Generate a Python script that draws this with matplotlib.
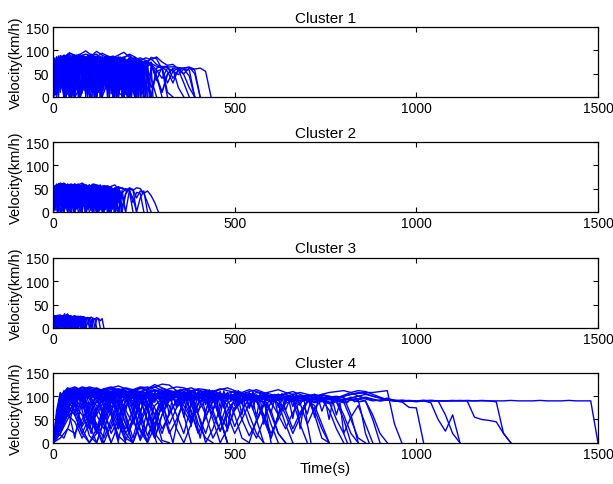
import matplotlib
matplotlib.use('Agg')
import matplotlib.pyplot as plt
import numpy as np

plt.rcParams['font.family'] = ['Liberation Sans', 'DejaVu Sans']

# Velocity traces: (time step in s, velocities in km/h)
cluster1 = [
    (15, [0, 55, 82, 95, 88, 92, 99, 90, 86, 94, 88, 84, 90, 96, 86, 80, 84, 78, 72, 66, 62, 64, 65, 63, 62, 64, 60, 62, 55, 0]),
    (15, [0, 70, 90, 84, 60, 20, 65, 88, 92, 80, 40, 10, 55, 85, 90, 78, 50, 70, 85, 82, 60, 30, 55, 62, 60, 45, 0]),
    (15, [0, 40, 78, 86, 30, 0, 50, 80, 84, 70, 15, 60, 82, 86, 40, 5, 60, 78, 72, 35, 65, 66, 40, 58, 62, 64, 50, 0]),
    (15, [0, 80, 75, 20, 70, 86, 50, 0, 45, 82, 88, 60, 15, 70, 84, 80, 30, 60, 75, 45, 10, 50, 60, 20, 0]),
    (15, [0, 65, 85, 40, 75, 90, 85, 30, 0, 60, 80, 78, 25, 65, 82, 50, 70, 72, 20, 45, 0]),
    (15, [0, 50, 88, 70, 10, 55, 83, 92, 45, 80, 85, 20, 0, 58, 79, 85, 60, 68, 40, 0]),
    (15, [0, 75, 60, 5, 72, 90, 75, 82, 35, 70, 88, 62, 10, 0, 50, 76, 80, 55, 0]),
    (15, [0, 30, 82, 88, 55, 0, 40, 85, 78, 50, 85, 86, 38, 70, 74, 0]),
    (15, [0, 85, 80, 45, 85, 70, 10, 66, 88, 80, 25, 60, 82, 0]),
    (15, [0, 60, 25, 78, 86, 60, 84, 45, 0, 70, 80, 0]),
    (15, [0, 45, 80, 0, 60, 88, 84, 20, 75, 0]),
    (15, [0, 70, 35, 0, 50, 76, 30, 0]),
    (15, [0, 82, 86, 90, 84, 88, 92, 88, 84, 80, 86, 82, 86, 80, 72, 60, 78, 84, 80, 86, 75, 68, 70, 60, 50, 62, 58, 0]),
    (15, [0, 66, 86, 94, 90, 80, 85, 88, 98, 90, 84, 88, 80, 84, 92, 86, 78, 74, 82, 70, 64, 55, 30, 60, 48, 20, 0]),
    (15, [0, 50, 76, 84, 80, 72, 55, 80, 86, 76, 40, 72, 82, 78, 65, 35, 70, 76, 68, 40, 10, 48, 62, 58, 30, 0]),
    (15, [0, 60, 0, 45, 80, 10, 60, 82, 0, 55, 86, 30, 70, 0, 65, 78, 15, 60, 0]),
    (15, [0, 20, 70, 40, 82, 0, 75, 50, 85, 5, 68, 80, 20, 76, 0, 50, 72, 64, 0, 55, 60, 0]),
    (15, [0, 88, 40, 80, 0, 70, 85, 10, 78, 35, 86, 0, 62, 80, 45, 0]),
    (15, [0, 35, 60, 80, 74, 60, 82, 80, 66, 78, 84, 70, 80, 74, 60, 76, 72, 66, 70, 58, 40, 62, 56, 48, 60, 58, 0]),
    (15, [0, 78, 84, 30, 0, 20, 82, 90, 70, 0, 30, 84, 80, 10, 0, 60, 74, 30, 0, 62, 66, 10, 0]),
    (12, [0, 84, 20, 86, 0, 80, 40, 88, 5, 82, 60, 0, 84, 30, 86, 0, 78, 50, 0, 80, 20, 0]),
    (12, [0, 10, 80, 0, 70, 84, 0, 60, 86, 10, 75, 0, 82, 45, 0, 70, 80, 0, 60, 0]),
    (5, [0, 82, 4, 86, 10, 80, 0, 88, 6, 84, 2, 90, 12, 85, 0, 83, 8, 87, 3, 81, 0, 89, 10, 84, 5, 86,
         0, 82, 14, 88, 2, 85, 7, 80, 0, 84, 9, 86, 1, 83, 6, 78, 0, 82, 11, 85, 3, 80, 0, 76, 5, 79, 0]),
    (5, [0, 30, 78, 0, 84, 20, 88, 0, 85, 15, 82, 0, 90, 25, 86, 0, 80, 18, 87, 0, 84, 22, 89, 0, 83, 16,
         85, 0, 81, 28, 86, 0, 84, 12, 80, 0, 85, 20, 82, 0, 78, 24, 83, 0, 80, 10, 76, 0, 79, 30, 74, 0, 72, 15, 70, 0]),
    (5, [0, 60, 40, 85, 45, 88, 35, 84, 50, 90, 42, 86, 38, 83, 48, 87, 40, 85, 30, 89, 45, 82, 36, 86, 44, 84,
         32, 88, 46, 81, 38, 85, 42, 80, 34, 83, 40, 79, 30, 82, 44, 78, 36, 80, 28, 76, 40, 74, 20, 72, 0]),
    (5, [0, 70, 20, 80, 60, 86, 15, 88, 62, 84, 25, 90, 58, 86, 10, 85, 65, 88, 22, 83, 55, 87, 18, 84, 60, 86,
         12, 82, 64, 85, 20, 81, 56, 84, 8, 80, 60, 82, 16, 78, 52, 80, 24, 76, 58, 74, 10, 72, 50, 70, 0]),
    (5, [0, 45, 86, 65, 89, 70, 84, 55, 92, 68, 86, 60, 88, 72, 85, 58, 90, 66, 84, 62, 87, 70, 83, 56, 86, 64,
         82, 60, 85, 68, 80, 54, 84, 62, 79, 58, 82, 66, 78, 50, 80, 60, 76, 55, 74, 40, 0]),
    (5, [0, 50, 0, 84, 40, 87, 0, 82, 45, 88, 0, 85, 38, 90, 0, 83, 42, 86, 0, 84, 35, 88, 0, 81, 46, 85,
         0, 86, 40, 82, 0, 84, 44, 80, 0, 83, 38, 81, 0, 79, 42, 80, 0, 77, 36, 75, 0, 72, 30, 0]),
    (5, [0, 84, 30, 86, 70, 88, 28, 85, 72, 91, 34, 87, 68, 84, 26, 89, 74, 86, 32, 85, 66, 88, 24, 83, 70, 86,
         36, 84, 64, 87, 30, 82, 68, 85, 22, 81, 66, 83, 34, 80, 62, 78, 28, 76, 60, 74, 0]),
    (5, [0, 15, 86, 5, 88, 18, 84, 0, 90, 12, 87, 3, 85, 20, 89, 0, 84, 14, 86, 6, 88, 16, 83, 0, 85, 10,
         87, 4, 82, 18, 86, 0, 83, 12, 81, 2, 84, 16, 80, 0, 82, 10, 78, 5, 80, 14, 76, 0, 74, 8, 72, 0, 70, 0]),
]

cluster2 = [
    (10, [0, 45, 58, 62, 56, 60, 55, 58, 62, 57, 54, 60, 58, 55, 56, 52, 55, 58, 50, 52, 48, 50, 46, 52, 50, 40, 45, 35, 20, 0]),
    (10, [0, 55, 60, 30, 0, 40, 58, 55, 20, 50, 58, 45, 0, 35, 56, 55, 25, 48, 54, 10, 40, 52, 48, 0, 30, 45, 0]),
    (10, [0, 20, 52, 58, 10, 45, 60, 35, 55, 0, 42, 58, 56, 15, 50, 55, 30, 52, 46, 0, 38, 50, 20, 42, 40, 0]),
    (10, [0, 60, 40, 0, 50, 56, 5, 48, 57, 40, 58, 20, 0, 45, 54, 50, 0, 40, 50, 35, 0, 45, 30, 0]),
    (10, [0, 35, 58, 50, 60, 25, 0, 50, 55, 58, 30, 52, 57, 5, 40, 55, 48, 20, 50, 0]),
    (10, [0, 50, 15, 55, 58, 0, 40, 56, 50, 10, 55, 48, 0, 46, 52, 0]),
    (10, [0, 40, 60, 55, 45, 58, 0, 30, 58, 54, 0]),
    (10, [0, 58, 54, 0, 45, 52, 30, 0]),
    (10, [0, 30, 55, 58, 52, 56, 60, 54, 58, 50, 55, 57, 52, 54, 50, 56, 52, 48, 54, 50, 45, 50, 48, 30, 45, 40, 20, 0]),
    (10, [0, 55, 62, 58, 25, 50, 57, 60, 40, 0, 45, 56, 52, 58, 20, 50, 54, 10, 0, 40, 50, 46, 0]),
    (10, [0, 15, 45, 0, 52, 58, 20, 56, 0, 48, 55, 0, 52, 30, 50, 0, 45, 50, 0, 46, 0]),
    (10, [0, 48, 0, 40, 56, 0, 50, 10, 58, 0, 45, 52, 0, 40, 0, 50, 48, 0]),
    (8, [0, 56, 0, 58, 10, 55, 0, 57, 20, 54, 0, 56, 5, 52, 0, 55, 30, 0]),
    (4, [0, 55, 3, 58, 8, 56, 0, 60, 5, 57, 2, 59, 10, 55, 0, 58, 6, 56, 1, 57, 4, 54, 0, 58, 9, 55,
         3, 56, 0, 54, 7, 57, 2, 53, 0, 55, 5, 52, 0, 54, 8, 50, 0, 52, 4, 48, 0]),
    (4, [0, 20, 52, 0, 56, 15, 60, 0, 57, 12, 55, 0, 59, 18, 56, 0, 54, 14, 58, 0, 55, 20, 57, 0, 53, 16,
         56, 0, 54, 22, 55, 0, 52, 10, 54, 0, 53, 18, 50, 0, 52, 12, 48, 0, 50, 20, 46, 0]),
    (4, [0, 40, 28, 56, 30, 60, 25, 57, 32, 58, 26, 55, 30, 59, 24, 56, 33, 57, 28, 54, 30, 58, 22, 55,
         31, 56, 27, 53, 29, 55, 25, 52, 30, 54, 26, 50, 28, 52, 20, 48, 0]),
    (4, [0, 50, 12, 57, 40, 60, 10, 58, 42, 56, 15, 59, 38, 55, 8, 57, 44, 56, 14, 54, 40, 57, 12, 55,
         45, 53, 10, 56, 38, 54, 16, 52, 42, 55, 10, 51, 36, 50, 0]),
    (4, [0, 35, 58, 45, 61, 48, 57, 42, 59, 46, 56, 40, 58, 47, 55, 44, 57, 41, 54, 46, 56, 43, 55, 40,
         53, 45, 54, 38, 52, 44, 50, 40, 48, 30, 0]),
    (4, [0, 10, 56, 2, 58, 12, 55, 0, 60, 8, 57, 4, 59, 14, 55, 0, 57, 10, 56, 3, 58, 12, 54, 0, 56, 9,
         55, 2, 53, 14, 56, 0, 54, 8, 52, 3, 55, 10, 50, 0, 51, 6, 48, 0]),
    (4, [0, 56, 25, 59, 48, 57, 22, 60, 46, 56, 28, 58, 50, 55, 24, 57, 47, 56, 26, 54, 49, 57, 20, 55,
         45, 53, 27, 56, 44, 52, 23, 54, 46, 50, 25, 51, 42, 48, 0]),
]

cluster3 = [
    (5, [0, 20, 26, 24, 27, 25, 22, 26, 30, 24, 25, 23, 26, 24, 22, 25, 23, 24, 20, 22, 21, 23, 20, 18, 22, 20, 15, 20, 0]),
    (5, [0, 25, 20, 0, 15, 24, 26, 10, 22, 25, 0, 18, 24, 22, 5, 20, 23, 0, 15, 22, 20, 0, 18, 20, 0]),
    (5, [0, 10, 24, 26, 5, 20, 25, 18, 0, 22, 24, 12, 23, 0, 15, 22, 24, 20, 0, 10, 22, 18, 0]),
    (5, [0, 22, 0, 18, 25, 20, 0, 24, 22, 0, 20, 24, 8, 22, 0, 20, 15, 0]),
    (5, [0, 26, 24, 15, 0, 20, 26, 24, 0, 18, 22, 0]),
    (5, [0, 15, 25, 22, 26, 24, 20, 25, 23, 26, 22, 24, 21, 23, 24, 20, 22, 18, 21, 22, 20, 0]),
    (5, [0, 24, 10, 25, 0, 20, 23, 5, 24, 0, 22, 20, 0, 22, 25, 15, 0]),
    (5, [0, 18, 24, 0, 22, 26, 0, 21, 24, 2, 22, 0, 20, 24, 0, 18, 22, 0, 20, 22, 0, 15, 21, 0, 18, 20, 0]),
    (2, [0, 24, 2, 26, 5, 25, 0, 27, 3, 24, 1, 26, 6, 25, 0, 28, 4, 24, 2, 26, 0, 25, 5, 23, 1, 25, 3, 24,
         0, 26, 4, 23, 2, 25, 0, 24, 6, 22, 1, 24, 3, 23, 0, 22, 5, 21, 0]),
    (2, [0, 10, 23, 0, 25, 8, 26, 0, 24, 6, 27, 0, 25, 9, 26, 0, 30, 7, 24, 0, 25, 10, 23, 0, 26, 5, 24,
         0, 23, 8, 25, 0, 22, 6, 24, 0, 23, 9, 22, 0, 21, 5, 23, 0, 20, 0]),
    (2, [0, 18, 12, 25, 14, 26, 10, 24, 15, 27, 11, 25, 13, 26, 12, 24, 16, 25, 10, 23, 14, 26, 12, 24,
         15, 22, 11, 24, 13, 23, 10, 22, 14, 24, 12, 21, 10, 22, 0]),
    (2, [0, 22, 5, 24, 18, 26, 4, 25, 20, 27, 6, 24, 17, 25, 3, 26, 19, 24, 5, 23, 18, 25, 4, 24, 20, 22,
         6, 23, 16, 24, 2, 22, 18, 20, 0]),
    (2, [0, 5, 25, 0, 26, 4, 24, 1, 27, 6, 25, 0, 26, 3, 24, 5, 25, 0, 23, 4, 26, 2, 24, 6, 22, 0, 25,
         3, 23, 5, 24, 0, 22, 4, 23, 1, 21, 5, 22, 0, 20, 0]),
    (2, [0, 25, 12, 26, 20, 24, 10, 27, 19, 25, 14, 26, 21, 24, 11, 25, 18, 23, 12, 26, 20, 24, 9, 23,
         17, 25, 13, 22, 19, 24, 10, 21, 16, 22, 0]),
]

cluster4 = [
    (20, [0, 80, 105, 110, 106, 112, 108, 104, 110, 114,
          108, 104, 110, 106, 112, 108, 104, 100, 106, 110,
          104, 100, 106, 102, 98, 104, 100, 106, 102, 98,
          100, 104, 98, 96, 100, 102, 96, 94, 98, 100,
          96, 92, 94, 98, 94, 90, 92, 90, 91, 90,
          90, 91, 90, 90, 90, 91, 90, 90, 90, 91,
          90, 90, 90, 91, 90, 90, 90, 91, 90, 90,
          90, 91, 90, 90, 90, 0]),
    (20, [0, 60, 100, 108, 104, 110, 115, 108, 104, 100,
          108, 112, 106, 100, 96, 104, 110, 106, 100, 104,
          98, 102, 108, 104, 98, 94, 100, 104, 98, 96,
          100, 94, 98, 104, 100, 96, 92, 98, 94, 90,
          92, 96, 100, 104, 100, 96, 92, 90, 91, 90,
          90, 91, 90, 90, 90, 90, 91, 90, 55, 50,
          48, 45, 20, 0]),
    (20, [0, 40, 90, 104, 100, 106, 110, 104, 98, 60,
          30, 70, 100, 106, 102, 98, 104, 108, 102, 96,
          100, 106, 100, 94, 98, 104, 100, 96, 90, 96,
          102, 98, 94, 100, 96, 92, 98, 104, 108, 110,
          112, 108, 100, 96, 92, 90, 92, 90, 91, 90,
          90, 90, 91, 90, 90, 90, 90, 91, 90, 90,
          90, 88, 20, 0]),
    (20, [0, 70, 108, 112, 106, 100, 108, 114, 110, 104,
          100, 106, 110, 104, 98, 102, 108, 112, 106, 100,
          96, 102, 98, 92, 98, 104, 100, 94, 98, 102,
          96, 100, 104, 98, 94, 100, 96, 102, 98, 94,
          100, 104, 108, 106, 100, 96, 94, 92, 90, 91,
          90, 90, 91, 90, 60, 20, 0]),
    (20, [0, 50, 95, 104, 98, 60, 20, 60, 100, 106,
          102, 96, 104, 100, 94, 98, 104, 100, 96, 90,
          96, 102, 98, 94, 100, 96, 90, 94, 100, 96,
          92, 98, 94, 90, 96, 100, 104, 98, 94, 96,
          102, 108, 112, 110, 104, 98, 92, 90, 88, 90,
          88, 90, 86, 50, 25, 60, 0]),
    (20, [0, 90, 110, 106, 112, 118, 110, 104, 108, 114,
          110, 104, 100, 108, 112, 106, 100, 104, 110, 106,
          100, 96, 102, 106, 100, 96, 100, 104, 98, 94,
          100, 104, 98, 94, 98, 102, 96, 92, 98, 94,
          90, 96, 100, 94, 90, 92, 96, 90, 88, 76,
          75, 0]),
    (20, [0, 60, 104, 110, 104, 100, 106, 112, 108, 102,
          96, 100, 106, 100, 94, 98, 104, 108, 102, 96,
          100, 94, 90, 96, 102, 98, 92, 96, 100, 94,
          90, 96, 100, 98, 94, 100, 104, 98, 92, 96,
          100, 104, 106, 108, 108, 110, 112, 40, 0]),
    (20, [0, 60, 100, 110, 115, 112, 118, 110, 105, 112, 116, 110, 108, 114, 120, 112, 106, 110, 104, 100,
          108, 112, 106, 102, 98, 104, 100, 60, 20, 0]),
    (20, [0, 40, 90, 105, 100, 60, 20, 70, 100, 108, 104, 80, 30, 5, 60, 95, 104, 100, 70, 40,
          85, 100, 96, 50, 0]),
    (20, [0, 20, 70, 100, 95, 40, 0, 50, 90, 100, 60, 10, 70, 98, 105, 85, 40, 75, 95, 100,
          98, 102, 95, 60, 30, 70, 90, 95, 50, 0]),
    (20, [0, 80, 110, 114, 108, 112, 104, 90, 110, 115, 108, 112, 118, 110, 104, 108, 112, 106, 100, 110,
          114, 108, 100, 104, 96, 100, 106, 102, 98, 104, 100, 96, 100, 92, 98, 94, 70, 30, 0]),
    (20, [0, 30, 60, 45, 10, 40, 75, 95, 100, 70, 20, 0, 50, 85, 60, 20, 65, 90, 100, 95,
          40, 10, 0]),
    (20, [0, 50, 95, 102, 90, 40, 60, 90, 98, 94, 100, 55, 5, 40, 80, 95, 100, 90, 98, 100,
          96, 92, 60, 25, 70, 92, 88, 95, 90, 60, 20, 50, 85, 90, 40, 0]),
    (20, [0, 10, 30, 20, 50, 80, 100, 96, 60, 15, 0]),
    (20, [0, 70, 105, 110, 100, 104, 98, 100, 60, 0]),
    (20, [0, 90, 115, 120, 112, 116, 110, 108, 115, 112, 118, 114, 110, 116, 125, 118, 112, 108, 115, 110,
          104, 112, 108, 100, 106, 110, 104, 100, 108, 104, 98, 100, 104, 96, 100, 98, 102, 95, 100, 96,
          92, 98, 94, 90, 60, 20, 0]),
    (20, [0, 60, 100, 85, 40, 75, 100, 104, 70, 30, 80, 100, 95, 45, 10, 60, 90, 98, 100, 65,
          20, 55, 90, 96, 100, 94, 50, 15, 45, 80, 92, 85, 40, 0]),
    (20, [0, 30, 85, 100, 108, 102, 95, 100, 105, 98, 70, 40, 90, 104, 100, 96, 102, 98, 80, 50,
          85, 100, 104, 98, 96, 100, 94, 98, 102, 96, 90, 94, 98, 92, 60, 88, 94, 90, 85, 92,
          88, 50, 10, 0]),
    (20, [0, 50, 90, 70, 30, 0, 20, 60, 95, 90, 40, 0]),
    (20, [0, 70, 108, 112, 106, 110, 100, 50, 0, 40, 95, 105, 100, 70, 20, 0]),
    (20, [0, 40, 80, 95, 105, 100, 96, 60, 30, 75, 100, 106, 102, 98, 60, 5, 0]),
    (20, [0, 50, 100, 112, 108, 104, 110, 106, 100, 60, 20, 50, 90, 104, 100, 96, 102, 106, 100, 94,
          98, 60, 10, 40, 85, 96, 100, 94, 90, 96, 100, 94, 60, 20, 55, 88, 94, 90, 86, 92,
          60, 20, 0]),
    (20, [0, 30, 75, 95, 100, 96, 60, 30, 70, 95, 100, 104, 98, 70, 40, 80, 98, 102, 96, 92,
          98, 94, 50, 0, 30, 75, 92, 96, 90, 94, 88, 60, 30, 65, 88, 92, 86, 90, 84, 88,
          50, 0]),
    (20, [0, 80, 112, 116, 110, 114, 108, 104, 110, 116, 112, 106, 102, 108, 112, 106, 100, 104, 108, 102,
          98, 104, 108, 102, 96, 100, 104, 98, 94, 100, 96, 92, 98, 94, 90, 96, 92, 88, 94, 90,
          86, 92, 88, 90, 50, 0]),
    (20, [0, 20, 60, 90, 100, 80, 40, 10, 50, 85, 96, 90, 50, 0, 35, 80, 96, 100, 90, 55,
          70, 92, 98, 94, 60, 20, 50, 85, 92, 88, 40, 0]),
    (20, [0, 40, 75, 60, 20, 55, 90, 100, 96, 50, 0]),
    (20, [0, 60, 100, 106, 100, 70, 30, 0, 40, 90, 104, 100, 94, 50, 10, 60, 96, 100, 60, 0]),
    (20, [0, 100, 118, 112, 120, 116, 110, 114, 118, 112, 108, 114, 120, 118, 120, 126, 124, 112, 114, 110,
          104, 108, 112, 106, 100, 104, 108, 102, 96, 100, 60, 20, 0]),
    (15, [0, 20, 10, 40, 95, 100, 60, 20, 70, 98, 102, 50, 5, 60, 96, 100, 70, 25, 80, 100,
          94, 40, 0, 55, 92, 98, 60, 10, 70, 95, 90, 40, 0]),
    (15, [0, 50, 100, 60, 10, 75, 104, 90, 30, 0, 60, 100, 104, 70, 20, 80, 102, 98, 40, 0]),
    (20, [0, 90, 116, 112, 118, 114, 110, 116, 120, 114, 108, 112, 118, 114, 110, 116, 112, 108, 114, 118,
          112, 106, 110, 116, 112, 108, 104, 110, 114, 108, 104, 100, 106, 110, 104, 98, 60, 10, 0]),
    (20, [0, 70, 110, 118, 114, 120, 116, 112, 118, 122, 116, 112, 116, 120, 114, 110, 116, 120, 118, 112,
          116, 114, 110, 114, 118, 112, 108, 114, 110, 106, 110, 114, 108, 104, 108, 104, 100, 104, 100, 96,
          98, 60, 0]),
    (20, [0, 40, 80, 60, 20, 0, 30, 70, 90, 60, 10, 0, 40, 80, 100, 70, 20, 50, 90, 96,
          60, 0, 30, 75, 92, 60, 10, 0, 50, 85, 70, 20, 0]),
    (20, [0, 60, 95, 80, 35, 60, 90, 70, 20, 50, 88, 96, 60, 15, 55, 90, 80, 30, 0, 40,
          85, 94, 70, 25, 60, 92, 85, 40, 10, 50, 88, 92, 70, 30, 65, 90, 80, 40, 0]),
    (20, [0, 20, 50, 80, 60, 30, 70, 96, 80, 40, 5, 45, 85, 98, 75, 30, 60, 92, 100, 70,
          20, 55, 90, 98, 80, 35, 70, 95, 90, 50, 10, 60, 90, 95, 85, 40, 75, 92, 88, 50,
          20, 55, 80, 40, 0]),
    (20, [0, 100, 112, 108, 96, 60, 30, 80, 106, 110, 98, 50, 10, 70, 104, 108, 100, 60, 20, 80,
          102, 106, 96, 50, 0]),
    (20, [0, 85, 110, 114, 108, 70, 25, 75, 108, 112, 104, 100, 106, 70, 30, 85, 106, 110, 104, 98,
          60, 20, 70, 100, 104, 98, 92, 98, 94, 60, 10, 60, 92, 96, 90, 94, 88, 92, 70, 30,
          0]),
    (20, [0, 30, 60, 90, 104, 100, 80, 40, 0]),
    (20, [0, 50, 85, 100, 70, 15, 0, 45, 90, 106, 100, 70, 25, 0]),
    (20, [0, 80, 108, 104, 110, 106, 102, 108, 104, 80, 40, 0]),
    (10, [0, 40, 90, 112, 85, 110, 78, 114, 90, 108, 80, 115, 86, 110, 76, 112, 92, 109, 82, 116,
          88, 111, 79, 113, 90, 108, 84, 114, 87, 110, 75, 112, 91, 107, 80, 115, 85, 110, 78, 113,
          89, 108, 82, 114, 86, 109, 76, 111, 90, 106, 80, 112, 84, 108, 77, 110, 88, 105, 80, 108,
          82, 104, 76, 106, 85, 102, 78, 104, 80, 100, 40, 0]),
    (10, [0, 60, 105, 80, 112, 95, 115, 70, 110, 96, 113, 82, 108, 98, 116, 74, 111, 94, 114, 85,
          109, 97, 112, 72, 110, 93, 115, 80, 107, 99, 113, 76, 110, 92, 112, 84, 108, 96, 111, 70,
          109, 95, 113, 81, 106, 97, 110, 75, 108, 90, 106, 82, 104, 94, 108, 72, 102, 90, 100, 50, 0]),
    (10, [0, 30, 70, 100, 65, 95, 60, 102, 72, 98, 40, 90, 66, 104, 75, 96, 62, 100, 30, 85,
          70, 103, 64, 97, 58, 101, 74, 94, 20, 80, 68, 99, 60, 102, 76, 95, 55, 100, 35, 88,
          66, 98, 62, 101, 72, 93, 57, 99, 25, 82, 70, 96, 60, 100, 74, 92, 56, 98, 40, 86,
          64, 95, 58, 97, 70, 90, 52, 94, 30, 80, 62, 92, 55, 95, 68, 88, 50, 90, 60, 86, 20, 0]),
    (10, [0, 70, 108, 95, 112, 100, 110, 92, 114, 98, 109, 96, 113, 90, 111, 99, 108, 94, 115, 97,
          110, 92, 112, 100, 107, 95, 113, 91, 109, 98, 111, 93, 108, 96, 112, 90, 110, 97, 106, 94,
          111, 92, 108, 99, 105, 93, 109, 95, 104, 90, 107, 96, 103, 92, 106, 94, 102, 90, 104, 95,
          100, 91, 103, 93, 99, 90, 102, 94, 98, 90, 100, 92, 97, 89, 99, 91, 96, 88, 98, 90,
          94, 86, 96, 88, 92, 60, 20, 0]),
]

titles = ['Cluster 1', 'Cluster 2', 'Cluster 3', 'Cluster 4']
clusters = [cluster1, cluster2, cluster3, cluster4]

fig = plt.figure(figsize=(6.13, 4.85), dpi=100)

bottoms = [0.798, 0.561, 0.322, 0.085]
for i in range(4):
    ax = fig.add_axes([0.0865, bottoms[i], 0.889, 0.144])
    for step, vel in clusters[i]:
        t = np.arange(len(vel)) * step
        ax.plot(t, vel, color='#0000ff', linewidth=1.0)
    ax.set_xlim(0, 1500)
    ax.set_ylim(0, 150)
    ax.set_xticks([0, 500, 1000, 1500])
    ax.set_yticks([0, 50, 100, 150])
    ax.tick_params(direction='in', top=True, right=True, length=3.5,
                   labelsize=10, pad=3)
    for sp in ax.spines.values():
        sp.set_linewidth(0.9)
    ax.set_title(titles[i], fontsize=11, pad=4)
    ax.set_ylabel('Velocity(km/h)', fontsize=10.5, labelpad=2)

ax.set_xlabel('Time(s)', fontsize=11, labelpad=0)

plt.savefig('out.png', dpi=100)
